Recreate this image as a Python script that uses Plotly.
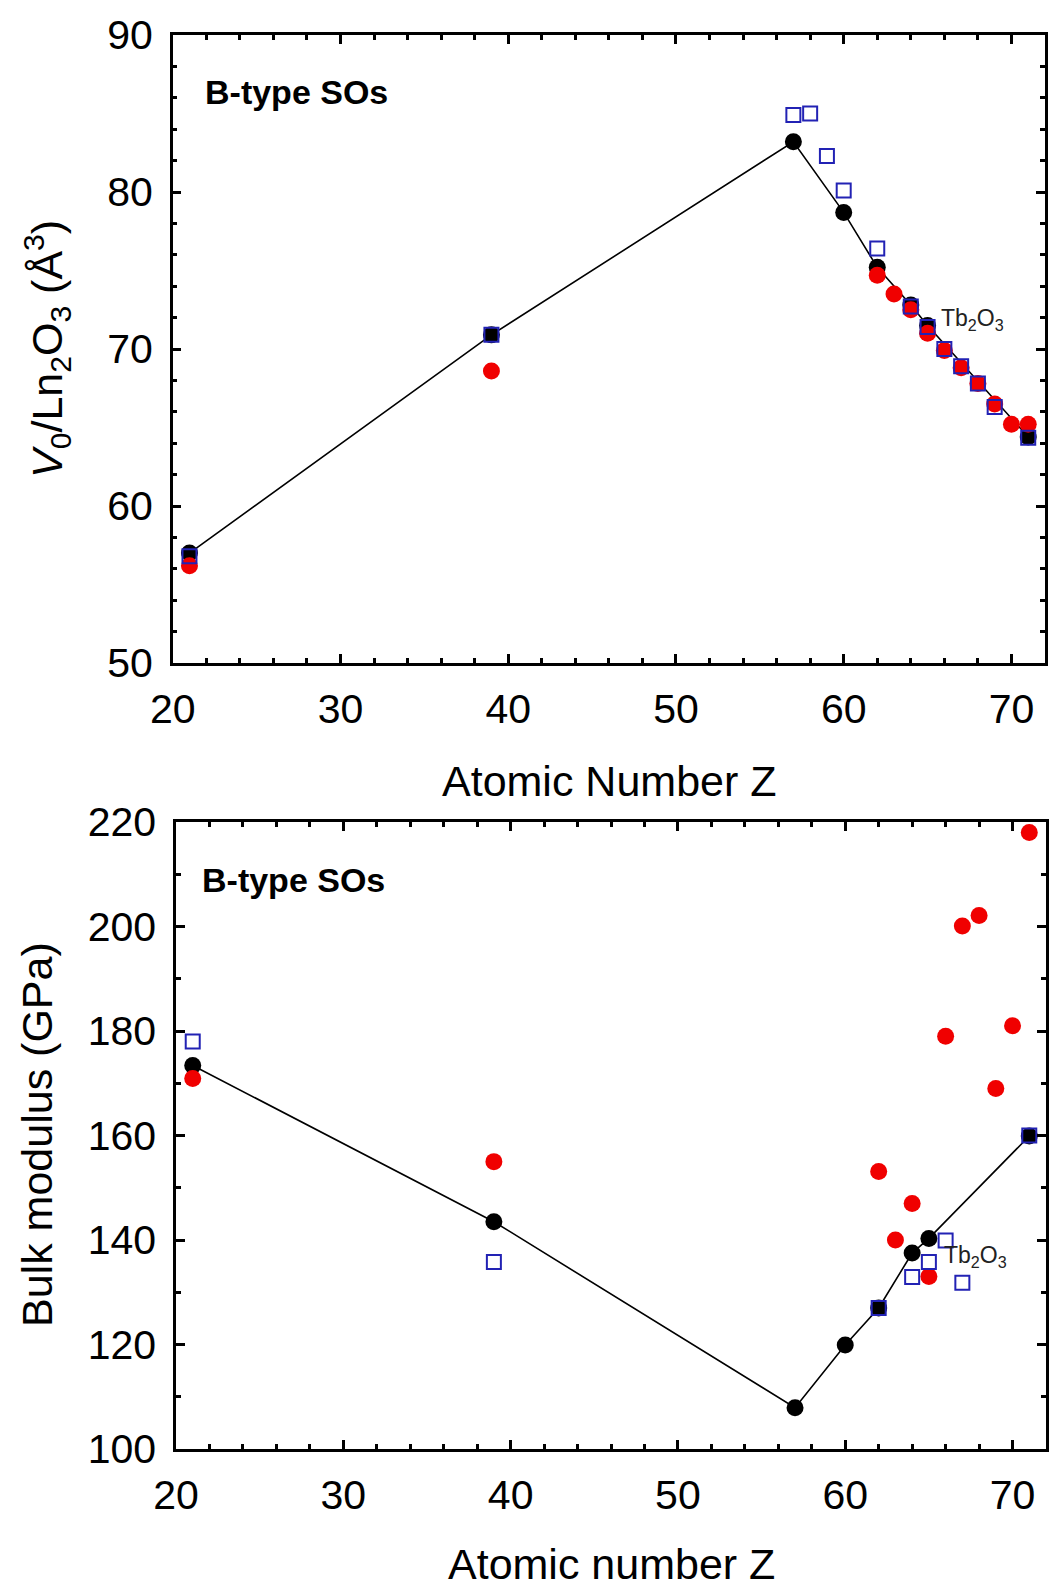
import plotly.graph_objects as go

# ---- Top panel: V0 / Ln2O3 (Å^3) ----
z_black_top = [21, 39, 57, 60, 62, 64, 65, 71]
v_black_top = [57.0, 70.9, 83.2, 78.7, 75.2, 72.8, 71.5, 64.4]
z_red_top = [21, 39, 62, 63, 64, 65, 66, 67, 68, 69, 70, 71]
v_red_top = [56.2, 68.6, 74.7, 73.5, 72.5, 71.0, 69.9, 68.8, 67.8, 66.5, 65.2, 65.2]
z_blue_top = [21, 39, 57, 58, 59, 60, 62, 64, 65, 66, 67, 68, 69, 71]
v_blue_top = [56.8, 70.9, 84.9, 85.0, 82.3, 80.1, 76.4, 72.7, 71.4, 70.0, 68.9, 67.8, 66.3, 64.35]

# ---- Bottom panel: Bulk modulus (GPa) ----
z_black_bot = [21, 39, 57, 60, 62, 64, 65, 71]
k_black_bot = [173.4, 143.5, 107.9, 119.9, 127.0, 137.5, 140.3, 159.9]
z_red_bot = [21, 39, 62, 63, 64, 65, 66, 67, 68, 69, 70, 71]
k_red_bot = [170.9, 155.0, 153.1, 140.0, 147.0, 133.0, 179.0, 200.1, 202.1, 169.0, 181.0, 218.0]
z_blue_bot = [21, 39, 62, 64, 65, 66, 67, 71]
k_blue_bot = [178.0, 135.8, 127.0, 132.9, 135.8, 139.9, 131.8, 160.0]

FONT = "Liberation Sans, Arial, sans-serif"
W, H = 1049, 1589
BLUE = "#2222b4"
RED = "#f00000"

fig = go.Figure()


def add_panel(zb, vb, zr, vr, zq, vq, xa, ya):
    fig.add_trace(go.Scatter(x=zb, y=vb, mode="lines+markers", xaxis=xa, yaxis=ya,
                             line=dict(color="black", width=1.6),
                             marker=dict(color="black", size=17), showlegend=False))
    fig.add_trace(go.Scatter(x=zr, y=vr, mode="markers", xaxis=xa, yaxis=ya,
                             marker=dict(color=RED, size=17), showlegend=False))
    fig.add_trace(go.Scatter(x=zq, y=vq, mode="markers", xaxis=xa, yaxis=ya,
                             marker=dict(symbol="square-open", color=BLUE, size=14,
                                         line=dict(width=2, color=BLUE)), showlegend=False))


add_panel(z_black_top, v_black_top, z_red_top, v_red_top, z_blue_top, v_blue_top, "x", "y")
add_panel(z_black_bot, k_black_bot, z_red_bot, k_red_bot, z_blue_bot, k_blue_bot, "x2", "y2")

axis_common = dict(
    showline=True, linecolor="black", linewidth=2.5, mirror="ticks",
    ticks="inside", ticklen=9, tickwidth=2.5, tickcolor="black",
    showgrid=False, zeroline=False, automargin=False,
    tickfont=dict(size=41, family=FONT, color="black"),
)


def minor(dt):
    return dict(ticks="inside", ticklen=5, tickwidth=2.5, tickcolor="black",
                dtick=dt, showgrid=False)


top_dom_x = [172.7 / W, 1045 / W]
bot_dom_x = [176 / W, 1046 / W]
top_dom_y = [1 - 663 / H, 1 - 35 / H]
bot_dom_y = [1 - 1449 / H, 1 - 822 / H]

fig.update_layout(
    template="none",
    width=W, height=H,
    margin=dict(l=0, r=0, t=0, b=0, autoexpand=False),
    paper_bgcolor="white", plot_bgcolor="white",
    xaxis=dict(axis_common, domain=top_dom_x, anchor="y", range=[20, 72],
               tick0=20, dtick=10, minor=minor(2), ticklabelstandoff=8),
    yaxis=dict(axis_common, domain=top_dom_y, anchor="x", range=[50, 90],
               tick0=50, dtick=10, minor=minor(2), ticklabelstandoff=9),
    xaxis2=dict(axis_common, domain=bot_dom_x, anchor="y2", range=[20, 72],
                tick0=20, dtick=10, minor=minor(2), ticklabelstandoff=8),
    yaxis2=dict(axis_common, domain=bot_dom_y, anchor="x2", range=[100, 220],
                tick0=100, dtick=20, minor=minor(10), ticklabelstandoff=9),
)

ann = []
# panel labels
ann.append(dict(x=21.8, y=86.4, xref="x", yref="y", text="<b>B-type SOs</b>",
                showarrow=False, xanchor="left", yanchor="middle",
                font=dict(size=34, family=FONT, color="black")))
ann.append(dict(x=21.43, y=208.9, xref="x2", yref="y2", text="<b>B-type SOs</b>",
                showarrow=False, xanchor="left", yanchor="middle",
                font=dict(size=34, family=FONT, color="black")))
# Tb2O3 labels
ann.append(dict(x=65.67, y=71.85, xref="x", yref="y", text="Tb<sub>2</sub>O<sub>3</sub>",
                showarrow=False, xanchor="left", yanchor="middle",
                font=dict(size=23, family=FONT, color="#222222")))
ann.append(dict(x=65.77, y=136.8, xref="x2", yref="y2", text="Tb<sub>2</sub>O<sub>3</sub>",
                showarrow=False, xanchor="left", yanchor="middle",
                font=dict(size=23, family=FONT, color="#222222")))
# axis titles
ann.append(dict(x=609 / W, y=1 - 781 / H, xref="paper", yref="paper",
                text="Atomic Number Z", showarrow=False, xanchor="center", yanchor="middle",
                font=dict(size=43, family=FONT, color="black")))
ann.append(dict(x=611 / W, y=1 - 1564 / H, xref="paper", yref="paper",
                text="Atomic number Z", showarrow=False, xanchor="center", yanchor="middle",
                font=dict(size=43, family=FONT, color="black")))
ann.append(dict(x=47 / W, y=1 - 349 / H, xref="paper", yref="paper",
                text="<i>V</i><sub>0</sub>/Ln<sub>2</sub>O<sub>3</sub> (Å<sup>3</sup>)",
                showarrow=False, textangle=-90, xanchor="center", yanchor="middle",
                font=dict(size=43, family=FONT, color="black")))
ann.append(dict(x=37 / W, y=1 - 1135 / H, xref="paper", yref="paper",
                text="Bulk modulus (GPa)",
                showarrow=False, textangle=-90, xanchor="center", yanchor="middle",
                font=dict(size=43, family=FONT, color="black")))
fig.update_layout(annotations=ann)

fig.write_html("out.html")
